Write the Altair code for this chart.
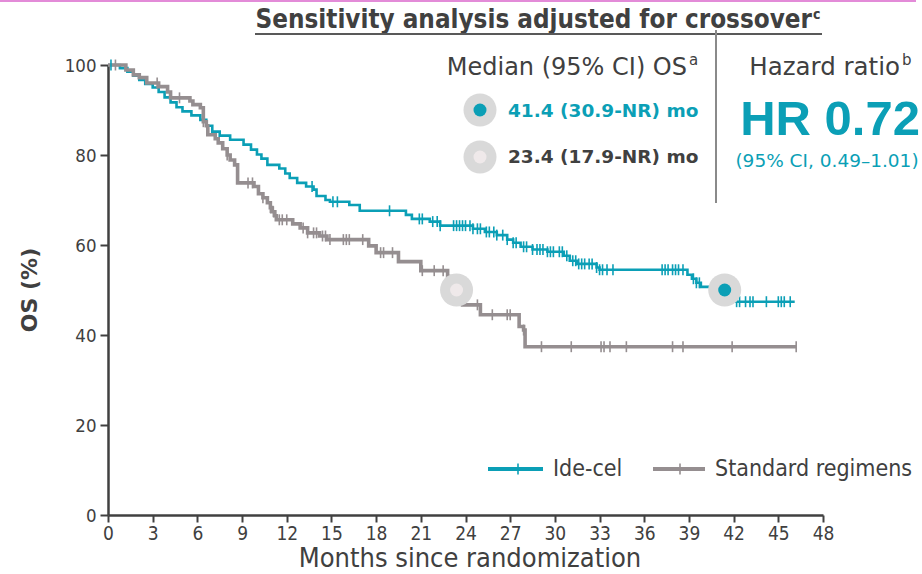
import altair as alt
import pandas as pd

# ---------------- data ----------------
arms = ["Ide-cel", "Standard regimens"]

teal_month = [0, 0.8, 1.3, 1.7, 2.1, 2.5, 3.0, 3.4, 3.8, 4.2, 4.6, 5.0, 5.6, 6.2, 6.6, 7.0, 7.5, 8.2, 9.1, 9.6,
              10.0, 10.3, 10.7, 11.5, 11.9, 12.2, 12.7, 13.3, 13.8, 14.0, 14.6, 14.9, 16.2, 16.9, 20.0, 20.4,
              21.6, 22.3, 24.5, 25.3, 26.1, 26.8, 27.2, 27.7, 28.5, 29.5, 30.6, 31.0, 31.5, 32.8, 33.0, 38.9,
              39.2, 39.5, 39.8, 41.4, 46.1]
teal_os = [100, 99.3, 98.5, 97.6, 96.7, 95.8, 95.0, 94.0, 92.8, 91.7, 90.6, 89.7, 88.8, 87.8, 86.5, 85.2, 84.3,
           83.4, 82.3, 81.2, 80.1, 79.2, 77.8, 77.0, 75.9, 74.9, 73.8, 73.0, 72.3, 70.9, 70.0, 69.6, 68.9, 67.6,
           66.7, 65.8, 65.2, 64.3, 63.6, 62.9, 62.2, 61.2, 60.5, 59.6, 59.0, 58.5, 57.6, 56.5, 55.8, 55.0, 54.5,
           53.4, 52.5, 51.6, 50.7, 47.4, 47.4]

gray_month = [0, 1.2, 1.7, 2.1, 2.6, 3.4, 4.0, 4.2, 5.5, 5.7, 6.2, 6.4, 6.6, 6.7, 7.2, 7.4, 7.7, 8.0, 8.2, 8.5,
              8.7, 9.8, 10.1, 10.4, 10.7, 10.9, 11.0, 11.2, 11.3, 12.4, 12.9, 13.4, 14.2, 14.7, 17.5, 18.0, 19.5,
              21.0, 22.8, 23.4, 23.8, 25.0, 27.6, 27.9, 28.0, 46.2]
gray_os = [100, 98.9, 97.8, 97.2, 96.0, 95.2, 94.0, 92.7, 92.0, 91.2, 90.5, 87.4, 86.5, 84.5, 83.6, 82.7, 81.4,
           80.0, 78.9, 77.8, 73.8, 73.0, 71.4, 70.5, 69.4, 68.3, 67.4, 66.5, 65.6, 64.7, 63.8, 62.7, 62.0, 61.2,
           59.8, 58.3, 56.3, 54.3, 53.0, 49.5, 46.7, 44.5, 41.9, 41.1, 37.4, 37.4]

teal_censor = [0.2, 13.7, 15.1, 15.4, 18.9, 20.9, 21.1, 21.8, 22.1, 22.3, 23.2, 23.4, 23.6, 23.8, 24.0, 24.3,
               24.5, 24.8, 25.0, 25.4, 25.6, 25.9, 26.1, 26.5, 26.8, 27.2, 27.4, 27.9, 28.1, 28.5, 28.8, 29.0,
               29.2, 29.5, 29.7, 29.9, 30.3, 30.5, 30.8, 31.2, 31.4, 31.6, 31.8, 32.0, 32.3, 32.5, 32.8, 33.0,
               33.2, 33.5, 33.9, 37.2, 37.4, 37.6, 37.9, 38.1, 38.3, 38.6, 39.3, 39.5, 39.7, 42.2, 42.4, 42.8,
               43.1, 43.3, 44.2, 45.0, 45.2, 45.4, 45.8]
gray_censor = [0.5, 3.3, 4.8, 6.4, 8.0, 9.4, 9.7, 10.4, 10.9, 11.1, 11.5, 11.7, 12.0, 13.1, 13.4, 13.8, 14.0,
               14.4, 14.6, 14.9, 15.8, 16.0, 16.2, 17.1, 18.3, 18.5, 19.1, 21.1, 21.9, 22.5, 24.8, 25.8, 26.8,
               27.0, 27.9, 29.1, 31.1, 33.1, 33.3, 33.7, 34.8, 37.9, 38.6, 41.9, 46.2]

median_month = [41.4, 23.4]
median_os = [50, 50]

x_ticks = list(range(0, 49, 3))
y_ticks = [0, 20, 40, 60, 80, 100]

TEAL = "#0b9fb6"
GRAY = "#958e90"
DARK = "#404040"
CIRCLE = "#d9d9d9"
PALE = "#efe9ea"


def step_value(months, values, t):
    v = values[0]
    for m, s in zip(months, values):
        if m <= t:
            v = s
    return v


curves = pd.DataFrame({
    "month": teal_month + gray_month,
    "os": teal_os + gray_os,
    "arm": [arms[0]] * len(teal_month) + [arms[1]] * len(gray_month),
})
censors = pd.DataFrame({
    "month": teal_censor + gray_censor,
    "os": [step_value(teal_month, teal_os, t) for t in teal_censor]
          + [step_value(gray_month, gray_os, t) for t in gray_censor],
    "arm": [arms[0]] * len(teal_censor) + [arms[1]] * len(gray_censor),
})
medians = pd.DataFrame({"month": median_month, "os": median_os, "arm": arms, "dot": [TEAL, PALE]})

x = alt.X("month:Q", scale=alt.Scale(domain=[0, 48], nice=False),
          axis=alt.Axis(values=x_ticks, title=None, grid=False, domainColor=DARK, domainWidth=2.5,
                        tickColor=DARK, tickWidth=2, tickSize=7, labelFont="DejaVu Sans Condensed",
                        labelFontSize=19, labelColor=DARK, labelPadding=2, labelFlush=False))
y = alt.Y("os:Q", scale=alt.Scale(domain=[0, 100], nice=False),
          axis=alt.Axis(values=y_ticks, title=None, grid=False, domainColor=DARK, domainWidth=2.5,
                        tickColor=DARK, tickWidth=2, tickSize=8, labelFont="DejaVu Sans Condensed",
                        labelFontSize=18.5, labelColor=DARK, labelPadding=4))
color = alt.Color("arm:N", scale=alt.Scale(domain=arms, range=[TEAL, GRAY]), legend=None)
width_enc = alt.StrokeWidth("arm:N", scale=alt.Scale(domain=arms, range=[2.6, 3.6]), legend=None)

lines = alt.Chart(curves).mark_line(interpolate="step-after").encode(x=x, y=y, color=color,
                                                                      strokeWidth=width_enc)
ticks = alt.Chart(censors).mark_point(shape="M0,-1L0,1", filled=False, size=120, strokeWidth=1.6,
                                      opacity=1).encode(x=x, y=y, color=color)
med_bg = alt.Chart(medians).mark_point(shape="circle", filled=True, size=1089, color=CIRCLE,
                                       opacity=1).encode(x=x, y=y)
med_dot = alt.Chart(medians).mark_point(shape="circle", filled=True, size=169, opacity=1).encode(
    x=x, y=y, fill=alt.Fill("dot:N", scale=None), stroke=alt.value(None))

OX, OY = 108, 65  # plot origin in page pixels


def txt(text, X, Y, size, color=DARK, weight="normal", align="left", font="DejaVu Sans",
        baseline="alphabetic", angle=0):
    return alt.Chart(pd.DataFrame({"t": [text]})).mark_text(
        align=align, baseline=baseline, fontSize=size, font=font, fontWeight=weight, color=color,
        angle=angle).encode(x=alt.value(X - OX), y=alt.value(Y - OY), text="t:N")


def rule(X1, Y1, X2, Y2, color, w):
    return alt.Chart(pd.DataFrame({"a": [0]})).mark_rule(color=color, strokeWidth=w).encode(
        x=alt.value(X1 - OX), x2=alt.value(X2 - OX), y=alt.value(Y1 - OY), y2=alt.value(Y2 - OY))


def dot(X, Y, size, color):
    return alt.Chart(pd.DataFrame({"a": [0]})).mark_point(shape="circle", filled=True, size=size,
                                                          color=color, opacity=1).encode(
        x=alt.value(X - OX), y=alt.value(Y - OY))


def vtick(X, Y, color):
    return alt.Chart(pd.DataFrame({"a": [0]})).mark_point(shape="M0,-1L0,1", filled=False, size=120,
                                                          strokeWidth=1.6, color=color, opacity=1).encode(
        x=alt.value(X - OX), y=alt.value(Y - OY))


layers = [
    rule(0, 1, 916, 1, "#e38bd8", 2),
    txt("Sensitivity analysis adjusted for crossover", 812, 28, 25.8, weight="bold",
        align="right", font="DejaVu Sans Condensed"),
    txt("c", 813, 19, 14, weight="bold", font="DejaVu Sans Condensed"),
    rule(255, 34, 822, 34, "#595959", 2),
    rule(716, 30, 716, 203, "#8a8a8a", 2),
    txt("Median (95% CI) OS", 687, 75, 24, align="right"),
    txt("a", 689, 65, 15),
    txt("Hazard ratio", 900, 75, 24.5, align="right"),
    txt("b", 902, 65, 15),
    dot(480, 110, 1089, CIRCLE), dot(480, 110, 169, TEAL),
    dot(480, 157, 1089, CIRCLE), dot(480, 157, 169, PALE),
    txt("41.4 (30.9-NR) mo", 508, 117, 18.5, color=TEAL, weight="bold"),
    txt("23.4 (17.9-NR) mo", 508, 163, 18.5, color=DARK, weight="bold"),
    txt("HR 0.72", 830, 135, 49, color=TEAL, weight="bold", align="center", font="Liberation Sans"),
    txt("(95% CI, 0.49\u20131.01)", 827, 167, 18.5, color=TEAL, align="center"),
    txt("OS (%)", 30, 290, 22, weight="bold", align="center", baseline="middle", angle=270),
    txt("Months since randomization", 470, 567, 27, align="center", font="DejaVu Sans Condensed"),
    rule(488, 469, 543, 469, TEAL, 4), vtick(518, 469, TEAL),
    txt("Ide-cel", 553, 469, 23, baseline="middle", font="DejaVu Sans Condensed"),
    rule(653, 469, 705, 469, GRAY, 4), vtick(680, 469, GRAY),
    txt("Standard regimens", 715, 469, 23, baseline="middle", font="DejaVu Sans Condensed"),
    lines, ticks, med_bg, med_dot,
]

chart = alt.layer(*layers).properties(
    width=715, height=450,
    autosize=alt.AutoSizeParams(type="none"),
    padding={"left": OX, "top": OY, "right": 922 - OX - 715, "bottom": 574 - OY - 450},
    background="white",
).configure_view(stroke=None)

chart.save("out.html", embed_options={"renderer": "svg", "actions": False})
